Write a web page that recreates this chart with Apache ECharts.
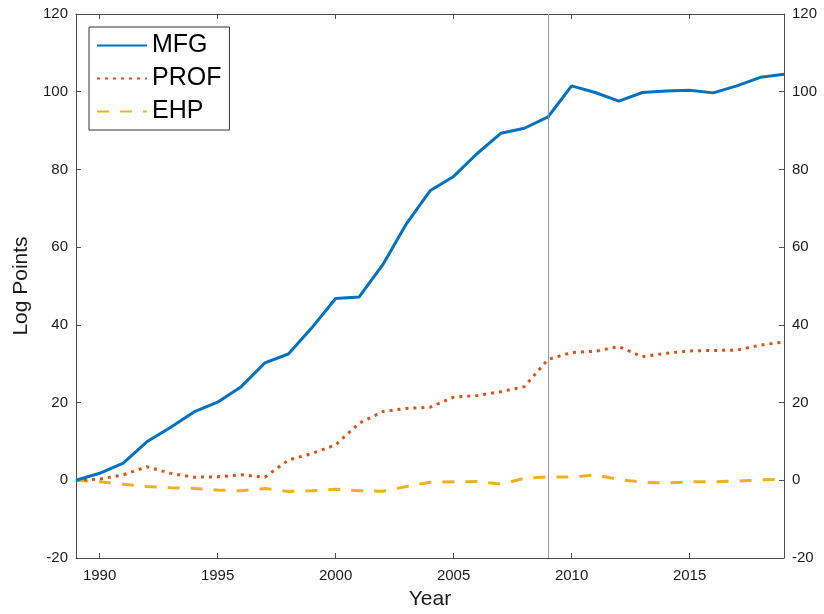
<!DOCTYPE html>
<html>
<head>
<meta charset="utf-8">
<style>
  html, body { margin: 0; padding: 0; background: #fff; }
  #chart { width: 824px; height: 614px; }
</style>
<script src="https://cdn.jsdelivr.net/npm/echarts@6/dist/echarts.min.js"></script>
</head>
<body>
<div id="chart"></div>
<script>
// Years covered by the series
const years = [1989, 1990, 1991, 1992, 1993, 1994, 1995, 1996, 1997, 1998, 1999,
  2000, 2001, 2002, 2003, 2004, 2005, 2006, 2007, 2008, 2009,
  2010, 2011, 2012, 2013, 2014, 2015, 2016, 2017, 2018, 2019];

// Cumulative change, log points
const mfg = [0, 1.8, 4.4, 9.9, 13.6, 17.6, 20.1, 24.1, 30.2, 32.5, 39.3,
  46.8, 47.2, 55.5, 66.0, 74.5, 78.2, 84.1, 89.3, 90.6, 93.5,
  101.5, 99.8, 97.6, 99.8, 100.2, 100.4, 99.7, 101.5, 103.7, 104.5];
const prof = [0, 0.3, 1.4, 3.5, 1.8, 0.8, 0.9, 1.4, 0.8, 5.2, 6.9,
  9.1, 14.7, 17.7, 18.5, 18.8, 21.4, 21.8, 22.8, 24.1, 31.1,
  32.9, 33.2, 34.4, 31.8, 32.7, 33.3, 33.4, 33.5, 34.8, 35.6];
const ehp = [0, -0.4, -1.0, -1.6, -1.9, -2.1, -2.5, -2.7, -2.1, -2.9, -2.7,
  -2.3, -2.7, -2.8, -1.6, -0.5, -0.4, -0.3, -1.0, 0.5, 0.9,
  0.8, 1.4, 0.2, -0.5, -0.7, -0.4, -0.4, -0.2, 0.1, 0.3];

// Axis ticks
const yearTicks = [1990, 1995, 2000, 2005, 2010, 2015];
const markerYear = 2009;

const FONT = '"Liberation Sans", Arial, Helvetica, sans-serif';
const AXIS_COLOR = '#4d4d4d';
const TEXT_COLOR = '#1a1a1a';

const pairs = (vals) => years.map((y, i) => [y, vals[i]]);

const xBase = {
  type: 'value', min: 1989, max: 2019,
  axisLine: { show: true, onZero: false, lineStyle: { color: AXIS_COLOR, width: 1 } },
  axisTick: { show: true, inside: true, length: 5, customValues: yearTicks,
              lineStyle: { color: AXIS_COLOR } },
  splitLine: { show: false }
};
const yBase = {
  type: 'value', min: -20, max: 120, interval: 20,
  axisLine: { show: true, onZero: false, lineStyle: { color: AXIS_COLOR, width: 1 } },
  axisTick: { show: true, inside: true, length: 5, lineStyle: { color: AXIS_COLOR } },
  splitLine: { show: false }
};

const chart = echarts.init(document.getElementById('chart'), null, { renderer: 'canvas' });
chart.setOption({
  animation: false,
  backgroundColor: '#fff',
  grid: { left: 76, right: 40, top: 14, bottom: 56, containLabel: false, outerBoundsMode: 'none' },
  legend: {
    left: 89, top: 27, orient: 'vertical',
    backgroundColor: '#fff', borderColor: '#333', borderWidth: 1,
    padding: [6, 8, 6, 7],
    itemWidth: 50, itemHeight: 14, itemGap: 8,
    itemStyle: { opacity: 0 },
    textStyle: { fontFamily: FONT, fontSize: 25, lineHeight: 25, color: '#000' },
    data: ['MFG', 'PROF', 'EHP']
  },
  xAxis: [
    Object.assign({}, xBase, {
      position: 'bottom',
      name: 'Year', nameLocation: 'middle', nameGap: 31,
      nameTextStyle: { fontFamily: FONT, fontSize: 21, color: TEXT_COLOR },
      axisLabel: { show: true, customValues: yearTicks, margin: 10,
                   formatter: (v) => String(v),
                   fontFamily: FONT, fontSize: 15, color: TEXT_COLOR }
    }),
    Object.assign({}, xBase, { position: 'top', axisLabel: { show: false } })
  ],
  yAxis: [
    Object.assign({}, yBase, {
      position: 'left',
      name: 'Log Points', nameLocation: 'middle', nameGap: 40,
      nameTextStyle: { fontFamily: FONT, fontSize: 21, color: TEXT_COLOR },
      axisLabel: { margin: 8, fontFamily: FONT, fontSize: 15, color: TEXT_COLOR }
    }),
    Object.assign({}, yBase, {
      position: 'right',
      axisLabel: { margin: 8, fontFamily: FONT, fontSize: 15, color: TEXT_COLOR }
    })
  ],
  series: [
    {
      name: 'MFG', type: 'line', data: pairs(mfg),
      showSymbol: false, symbol: 'none', color: '#0072BD',
      lineStyle: { width: 3, color: '#0072BD' }, z: 3,
      markLine: {
        silent: true, symbol: ['none', 'none'], label: { show: false },
        lineStyle: { color: '#9a9a9a', width: 1, type: 'solid' },
        data: [{ xAxis: markerYear }]
      }
    },
    {
      name: 'PROF', type: 'line', data: pairs(prof),
      showSymbol: false, symbol: 'none', color: '#D95319',
      lineStyle: { width: 3, color: '#D95319', type: [3, 5] }, z: 2
    },
    {
      name: 'EHP', type: 'line', data: pairs(ehp),
      showSymbol: false, symbol: 'none', color: '#EDB120',
      lineStyle: { width: 3, color: '#EDB120', type: [12, 11] }, z: 1
    }
  ]
});
</script>
</body>
</html>
